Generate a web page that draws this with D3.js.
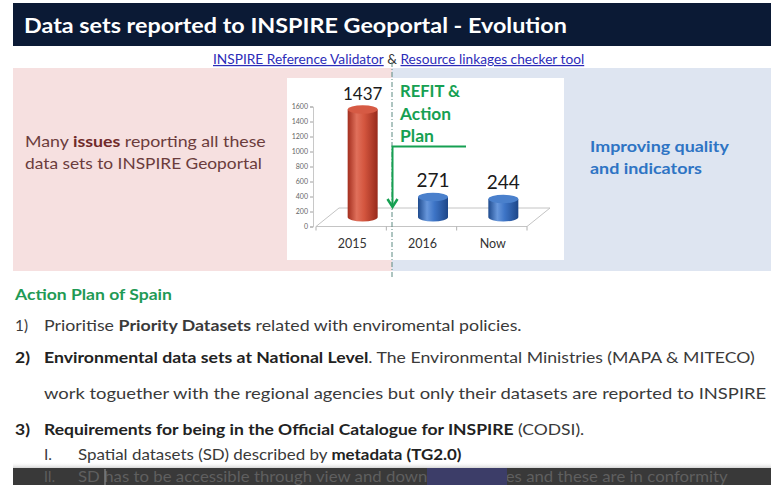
<!DOCTYPE html>
<html><head><meta charset="utf-8">
<script src="https://cdnjs.cloudflare.com/ajax/libs/d3/7.8.5/d3.min.js"></script>
<style>html,body{margin:0;padding:0;background:#fff;overflow:hidden}svg{display:block}</style>
</head><body>
<svg id="c" width="771" height="485"></svg>
<script>
// ---- data ----
const categories = ["2015", "2016", "Now"];
const values = [1437, 271, 244];
const yTicks = [0, 200, 400, 600, 800, 1000, 1200, 1400, 1600];
const valueLabels = ["1437", "271", "244"];

const FONT = "Lato, 'Open Sans', sans-serif";
const svg = d3.select("#c");
const defs = svg.append("defs");

function fitText(parent, o) {
  const t = parent.append("text").attr("font-family", FONT).attr("font-size", o.size)
    .attr("fill", o.color).attr("x", 0).attr("y", 0);
  o.parts.forEach(p => {
    const ts = t.append("tspan").text(p.t).attr("font-weight", p.b ? "bold" : "normal");
    if (p.c) ts.attr("fill", p.c);
    if (p.u) ts.style("text-decoration", "underline");
  });
  const w = t.node().getComputedTextLength();
  const s = o.width / w;
  t.attr("transform", `translate(${o.x},${o.y}) scale(${s},1)`);
  return t;
}

// header
svg.append("rect").attr("x", 13).attr("y", 3).attr("width", 758).attr("height", 43).attr("fill", "#0b1a35");
fitText(svg, {x: 24, y: 33, width: 543, size: 21.5, color: "#ffffff",
  parts: [{t: "Data sets reported to INSPIRE Geoportal - Evolution", b: true}]});

// link line
fitText(svg, {x: 213, y: 64, width: 371, size: 12.5, color: "#333",
  parts: [{t: "INSPIRE Reference Validator", u: true, c: "#2c2cb8"}, {t: " & "},
          {t: "Resource linkages checker tool", u: true, c: "#2c2cb8"}]});

// bands
svg.append("rect").attr("x", 13).attr("y", 68).attr("width", 379).attr("height", 203).attr("fill", "#f6e0e0");
svg.append("rect").attr("x", 392).attr("y", 68).attr("width", 379).attr("height", 203).attr("fill", "#dee5f1");

fitText(svg, {x: 25, y: 147, width: 241, size: 14.5, color: "#6b3c3c",
  parts: [{t: "Many "}, {t: "issues", b: true, c: "#702a2a"}, {t: " reporting all these"}]});
fitText(svg, {x: 25, y: 169, width: 237, size: 14.5, color: "#6b3c3c",
  parts: [{t: "data sets to INSPIRE Geoportal"}]});

fitText(svg, {x: 590, y: 152, width: 139, size: 15.5, color: "#2e74c4",
  parts: [{t: "Improving quality", b: true}]});
fitText(svg, {x: 590, y: 174, width: 112, size: 15.5, color: "#2e74c4",
  parts: [{t: "and indicators", b: true}]});

// chart box
svg.append("rect").attr("x", 287).attr("y", 78).attr("width", 277).attr("height", 182).attr("fill", "#ffffff");

// scales
const x = d3.scaleBand().domain(categories).range([316, 527]).padding(0);
const y = d3.scaleLinear().domain([0, 1600]).range([226.5, 106.5]);
const depth = {dx: 23, dy: -18.5};
const mid = {dx: depth.dx / 2, dy: depth.dy / 2};

const chart = svg.append("g");
// floor
const x0 = x.range()[0], x1 = x.range()[1], yb = y(0);
chart.append("path")
  .attr("d", `M${x0},${yb} L${x1},${yb} L${x1 + depth.dx},${yb + depth.dy} L${x0 + depth.dx},${yb + depth.dy} Z`)
  .attr("fill", "none").attr("stroke", "#c4c4c4").attr("stroke-width", 1);
// category ticks
const bounds = categories.map(c => x(c)).concat([x1]);
chart.selectAll("line.ct").data(bounds).join("line")
  .attr("x1", d => d).attr("x2", d => d).attr("y1", yb).attr("y2", yb + 4)
  .attr("stroke", "#b0b0b0");
// y axis
const ax = chart.append("g").attr("transform", "translate(313,0)")
  .call(d3.axisLeft(y).tickValues(yTicks).tickSize(3).tickPadding(2).tickFormat(d3.format("d")));
ax.select(".domain").attr("stroke", "#c8c8c8");
ax.selectAll(".tick line").attr("stroke", "#a0a0a0");
ax.selectAll(".tick text").attr("font-family", FONT).attr("font-size", 7).attr("fill", "#666");

// cylinder gradients
function grad(id, stops) {
  const g = defs.append("linearGradient").attr("id", id).attr("x1", 0).attr("x2", 1).attr("y1", 0).attr("y2", 0);
  stops.forEach(s => g.append("stop").attr("offset", s[0]).attr("stop-color", s[1]));
}
grad("gRed", [[0, "#a32e1e"], [0.3, "#e0705b"], [0.55, "#d4563f"], [1, "#982a1b"]]);
grad("gBlue", [[0, "#1f4b8e"], [0.3, "#6797dc"], [0.55, "#3d74c6"], [1, "#1d4688"]]);
const bodyFill = i => i === 0 ? "url(#gRed)" : "url(#gBlue)";
const topFill = i => i === 0 ? "#d65a44" : "#4a80cc";

const rx = 15, ry = 4.2;
const bars = chart.selectAll("g.bar").data(values).join("g").attr("class", "bar");
bars.append("path").attr("d", (v, i) => {
  const cx = x(categories[i]) + x.bandwidth() / 2 + mid.dx;
  const top = y(v) + mid.dy, base = y(0) + mid.dy;
  return `M${cx - rx},${top} L${cx - rx},${base} A${rx},${ry} 0 0 0 ${cx + rx},${base} L${cx + rx},${top} Z`;
}).attr("fill", (v, i) => bodyFill(i));
bars.append("ellipse")
  .attr("cx", (v, i) => x(categories[i]) + x.bandwidth() / 2 + mid.dx)
  .attr("cy", v => y(v) + mid.dy).attr("rx", rx).attr("ry", ry)
  .attr("fill", (v, i) => topFill(i));

// value labels
chart.selectAll("text.vl").data(values).join("text").attr("class", "vl")
  .attr("x", (v, i) => x(categories[i]) + x.bandwidth() / 2 + mid.dx)
  .attr("y", (v, i) => y(v) + mid.dy - (i === 0 ? 9 : 10))
  .attr("text-anchor", "middle").attr("font-family", FONT)
  .attr("font-size", (v, i) => i === 0 ? 17 : 19).attr("fill", "#1a1a1a")
  .text((v, i) => valueLabels[i]);

// category labels
chart.selectAll("text.cl").data(categories).join("text").attr("class", "cl")
  .attr("x", c => x(c) + x.bandwidth() / 2 + 1).attr("y", 248)
  .attr("text-anchor", "middle").attr("font-family", FONT).attr("font-size", 12.5).attr("fill", "#333")
  .text(c => c);

// dashed divider
svg.append("line").attr("x1", 392).attr("x2", 392).attr("y1", 62).attr("y2", 277)
  .attr("stroke", "#5d8a82").attr("stroke-width", 1).attr("stroke-dasharray", "5,2,1,2");

// REFIT annotation
const green = "#16a052";
fitText(svg, {x: 400, y: 97, width: 60, size: 16.5, color: green, parts: [{t: "REFIT &", b: true}]});
fitText(svg, {x: 400, y: 120, width: 51, size: 16.5, color: green, parts: [{t: "Action", b: true}]});
fitText(svg, {x: 400, y: 142, width: 34, size: 16.5, color: green, parts: [{t: "Plan", b: true}]});
svg.append("path").attr("d", "M466,146.5 L392.5,146.5 L392.5,207").attr("fill", "none")
  .attr("stroke", green).attr("stroke-width", 2);
svg.append("path").attr("d", "M387.5,199 L392.5,207 L397.5,199").attr("fill", "none")
  .attr("stroke", green).attr("stroke-width", 2.5);

// bottom text
const txt = "#3a3a3a";
const fs = 15.5;
fitText(svg, {x: 15, y: 300, width: 157, size: 15, color: "#1f9a55",
  parts: [{t: "Action Plan of Spain", b: true}]});
fitText(svg, {x: 15, y: 331, width: 13, size: fs, color: txt, parts: [{t: "1)"}]});
fitText(svg, {x: 44, y: 331, width: 478, size: fs, color: txt,
  parts: [{t: "Prioritise "}, {t: "Priority Datasets", b: true}, {t: " related with enviromental policies."}]});
fitText(svg, {x: 15, y: 363, width: 15, size: fs, color: "#222", parts: [{t: "2)", b: true}]});
fitText(svg, {x: 44, y: 363, width: 711, size: fs, color: txt,
  parts: [{t: "Environmental data sets at National Level", b: true, c: "#222"}, {t: ". The Environmental Ministries (MAPA & MITECO)"}]});
fitText(svg, {x: 44, y: 399, width: 723, size: fs, color: txt,
  parts: [{t: "work toguether with the regional agencies but only their datasets are reported to INSPIRE"}]});
fitText(svg, {x: 15, y: 435, width: 15, size: fs, color: "#222", parts: [{t: "3)", b: true}]});
fitText(svg, {x: 44, y: 435, width: 541, size: fs, color: txt,
  parts: [{t: "Requirements for being in the Official Catalogue for INSPIRE", b: true, c: "#222"}, {t: " (CODSI)."}]});
fitText(svg, {x: 44, y: 460, width: 8, size: fs, color: txt, parts: [{t: "I."}]});
fitText(svg, {x: 78, y: 460, width: 384, size: fs, color: txt,
  parts: [{t: "Spatial datasets (SD) described by "}, {t: "metadata (TG2.0)", b: true, c: "#222"}]});

// bottom dark bar with fade
const fade = defs.append("linearGradient").attr("id", "gV").attr("x1", 0).attr("x2", 0).attr("y1", 0).attr("y2", 1);
fade.append("stop").attr("offset", 0).attr("stop-color", "#ffffff").attr("stop-opacity", 0);
fade.append("stop").attr("offset", 1).attr("stop-color", "#d0d0d0").attr("stop-opacity", 0.9);
svg.append("rect").attr("x", 13).attr("y", 462).attr("width", 758).attr("height", 6).attr("fill", "url(#gV)");
svg.append("rect").attr("x", 13).attr("y", 468).attr("width", 758).attr("height", 17).attr("fill", "#393939");
fitText(svg, {x: 44, y: 482, width: 11, size: fs, color: "#5f5f5f", parts: [{t: "II."}]});
fitText(svg, {x: 78, y: 482, width: 650, size: fs, color: "#5f5f5f",
  parts: [{t: "SD has to be accessible through view and download services and these are in conformity"}]});
svg.append("rect").attr("x", 427).attr("y", 468).attr("width", 80).attr("height", 17).attr("fill", "#3c3d68");
svg.append("line").attr("x1", 105).attr("x2", 105).attr("y1", 469).attr("y2", 485).attr("stroke", "#9a9a9a");
</script>
</body></html>
